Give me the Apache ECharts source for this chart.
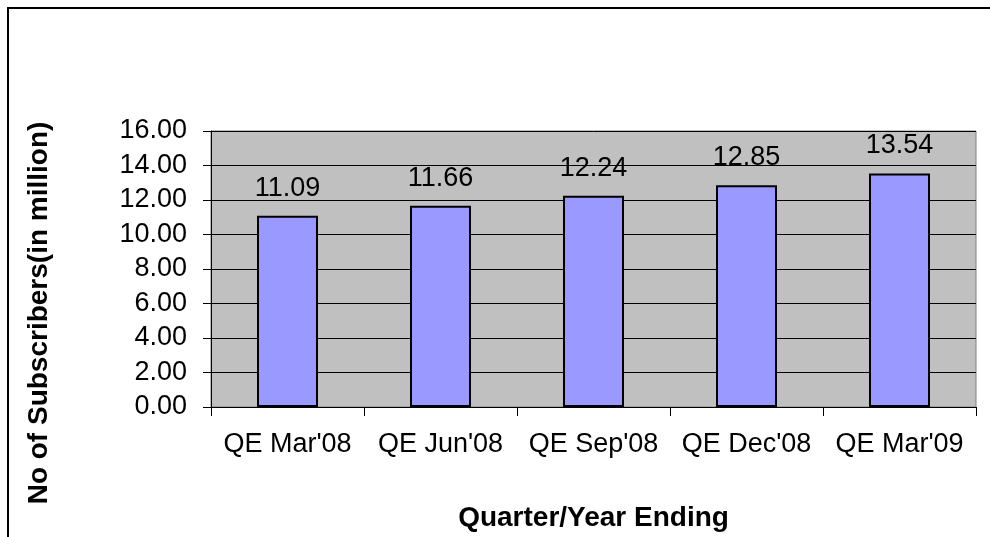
<!DOCTYPE html>
<html>
<head>
<meta charset="utf-8">
<script src="https://cdn.jsdelivr.net/npm/echarts@6/dist/echarts.min.js"></script>
<style>
  html, body { margin: 0; padding: 0; background: #fff; }
  #chart { width: 990px; height: 537px; }
</style>
</head>
<body>
<div id="chart"></div>
<script>
// quarters and subscriber counts (million)
const quarters = ["QE Mar'08", "QE Jun'08", "QE Sep'08", "QE Dec'08", "QE Mar'09"];
const subscribers = [11.09, 11.66, 12.24, 12.85, 13.54];

const FONT = "Liberation Sans, Arial, sans-serif";

let chart = echarts.init(document.getElementById("chart"));

const option = {
  animation: false,
  backgroundColor: "#fff",
  grid: {
    left: 211,
    right: 14,
    top: 131,
    bottom: 128,
    show: true,
    backgroundColor: "#C0C0C0",
    borderColor: "#808080",
    borderWidth: 1
  },
  graphic: [
    {
      type: "rect",
      shape: { x: 8, y: 8, width: 1100, height: 700 },
      style: { fill: "none", stroke: "#000", lineWidth: 2 },
      silent: true
    },
    {
      type: "text",
      x: 39,
      y: 313,
      rotation: Math.PI / 2,
      style: {
        text: "No of Subscribers(in million)",
        font: "bold 28px " + FONT,
        fill: "#000",
        align: "center",
        verticalAlign: "middle"
      }
    }
  ],
  xAxis: {
    type: "category",
    data: quarters,
    name: "Quarter/Year Ending",
    nameLocation: "middle",
    nameGap: 97,
    nameTextStyle: { fontFamily: FONT, fontSize: 28, fontWeight: "bold", color: "#000" },
    axisLine: { lineStyle: { color: "#000", width: 1 } },
    axisTick: { show: true, length: 9, lineStyle: { color: "#000" } },
    axisLabel: { interval: 0, fontFamily: FONT, fontSize: 27, color: "#000", margin: 24 },
    splitLine: { show: false }
  },
  yAxis: {
    type: "value",
    min: 0,
    max: 16,
    interval: 2,
    axisLine: { show: true, lineStyle: { color: "#000", width: 1 } },
    axisTick: { show: true, length: 8, lineStyle: { color: "#000" } },
    axisLabel: {
      fontFamily: FONT,
      fontSize: 27,
      color: "#000",
      margin: 24,
      formatter: v => v.toFixed(2)
    },
    splitLine: { show: true, lineStyle: { color: "#000", width: 1 } }
  },
  series: [
    {
      type: "bar",
      data: subscribers,
      barWidth: 61,
      itemStyle: { color: "#9999FF", borderColor: "#000", borderWidth: 2 },
      label: {
        show: true,
        position: "top",
        distance: 14,
        fontFamily: FONT,
        fontSize: 27,
        color: "#000",
        formatter: p => p.value.toFixed(2)
      }
    }
  ]
};

chart.setOption(option);
</script>
</body>
</html>
